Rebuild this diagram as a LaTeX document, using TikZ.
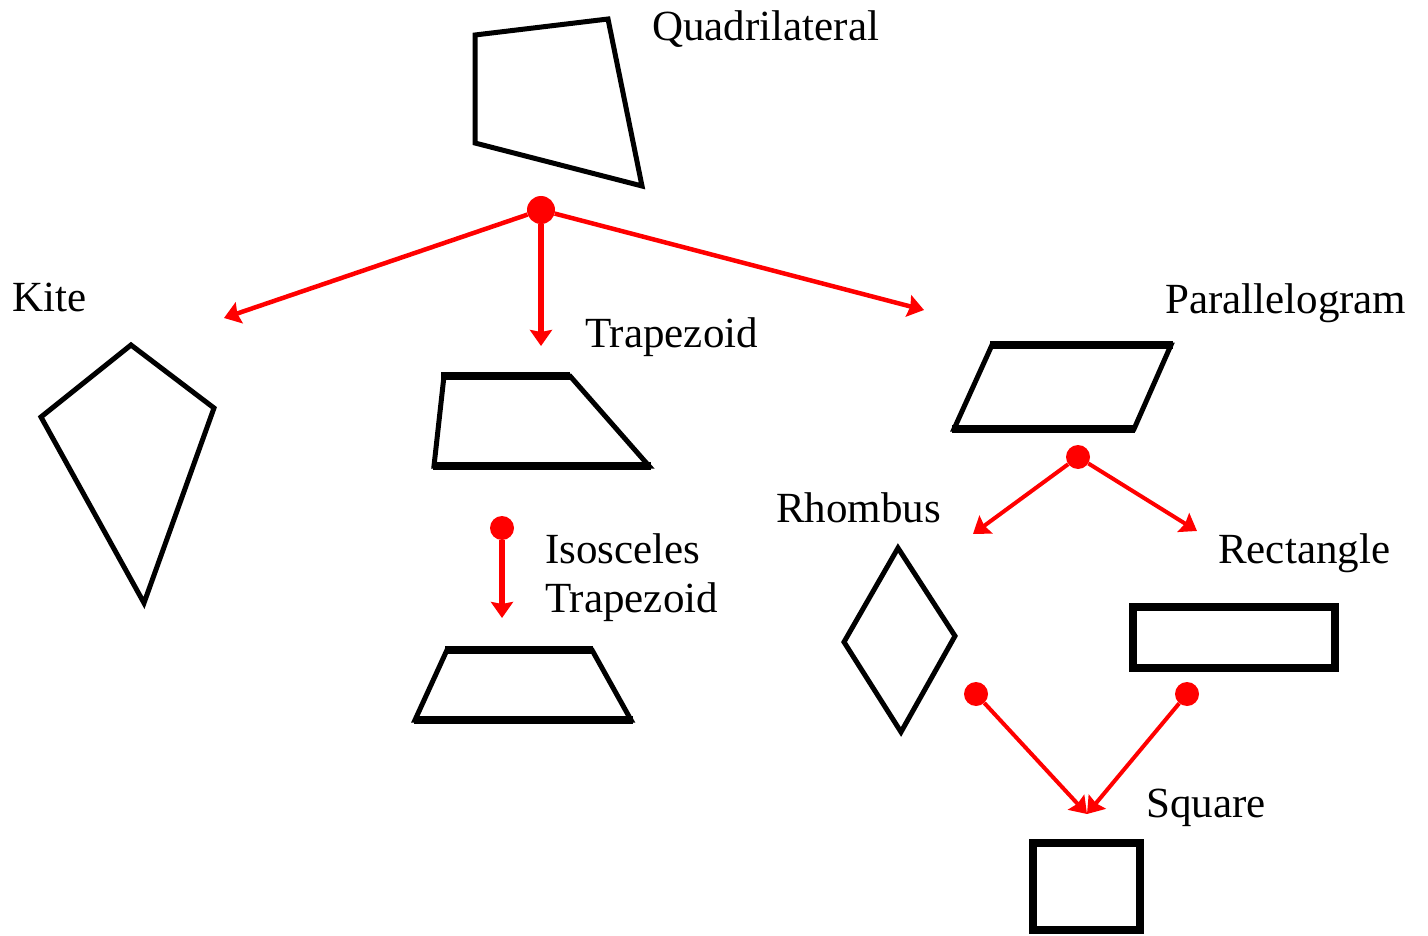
\documentclass[tikz,border=0pt]{standalone}
\usepackage{fontspec}
\setmainfont{Liberation Serif}
\usetikzlibrary{arrows.meta}
\begin{document}
\begin{tikzpicture}[x=1pt,y=-1pt,
  outline/.style={draw=black,line width=5pt,line join=miter},
  heavy/.style={draw=black,line width=7.5pt,line cap=butt},
  lbl/.style={anchor=base west,inner sep=0pt,font=\fontsize{43}{49}\selectfont},
  link/.style={draw=red,line width=4.5pt,-{Triangle[length=16pt,width=22pt,inset=2pt]}},
  mainlink/.style={link,line width=6pt},
  hub/.style={circle,fill=red,inner sep=0pt,minimum size=24pt},
  bighub/.style={hub,minimum size=28pt}]
\useasboundingbox (0,0) rectangle (1428,936);

% labels
\node[lbl] (tquad) at (652,41) {Quadrilateral};
\node[lbl] (tkite) at (12,312) {Kite};
\node[lbl] (ttrap) at (585,348) {Trapezoid};
\node[lbl] (tpar)  at (1165,313) {Parallelogram};
\node[lbl] (trho)  at (776,522) {Rhombus};
\node[lbl] (trect) at (1218,563) {Rectangle};
\node[lbl] (tiso1) at (545,563) {Isosceles};
\node[lbl] (tiso2) at (545,612) {Trapezoid};
\node[lbl] (tsq)   at (1146,817) {Square};

% shapes
\draw[outline] (475,35) -- (608,19) -- (642,186) -- (475,143) -- cycle;
\draw[outline] (131,345) -- (214,408) -- (144,603) -- (41,417) -- cycle;
\draw[outline] (444,376) -- (570,376) -- (649,466) -- (434,466) -- cycle;
\draw[heavy] (441,376) -- (570,376);
\draw[heavy] (433,466) -- (651,466);
\draw[outline] (447,650) -- (592,650) -- (631,720) -- (415,720) -- cycle;
\draw[heavy] (445,650) -- (593,650);
\draw[heavy] (414,720) -- (633,720);
\draw[outline] (992,345) -- (1171,345) -- (1134,429) -- (954,429) -- cycle;
\draw[heavy] (990,345) -- (1173,345);
\draw[heavy] (952,429) -- (1135,429);
\draw[outline] (898,548) -- (955,636) -- (901,732) -- (844,642) -- cycle;
\draw[outline,line width=7.5pt] (1133,607) rectangle (1335,668);
\draw[outline,line width=7.5pt] (1033,843) rectangle (1140,930);

% hubs and arrow ends
\node[bighub] (hq) at (541,210) {};
\node[hub] (hiso) at (502,528) {};
\node[hub] (hpar) at (1078,457) {};
\node[hub] (hrho) at (976,694) {};
\node[hub] (hrect) at (1187,694) {};
\coordinate (akite) at (224,318);
\coordinate (atrap) at (541,346);
\coordinate (apar) at (924,310);
\coordinate (aiso) at (502,618);
\coordinate (arho) at (973,534);
\coordinate (arect) at (1197,531);
\coordinate (asq) at (1087,814);

% connectors
\draw[link] (hq) -- (akite);
\draw[mainlink] (hq) -- (atrap);
\draw[link] (hq) -- (apar);
\draw[mainlink] (hiso) -- (aiso);
\draw[link,line width=4pt] (hpar) -- (arho);
\draw[link,line width=4pt] (hpar) -- (arect);
\draw[link,line width=4pt] (hrho) -- (asq);
\draw[link,line width=4pt] (hrect) -- (asq);
\end{tikzpicture}
\end{document}
